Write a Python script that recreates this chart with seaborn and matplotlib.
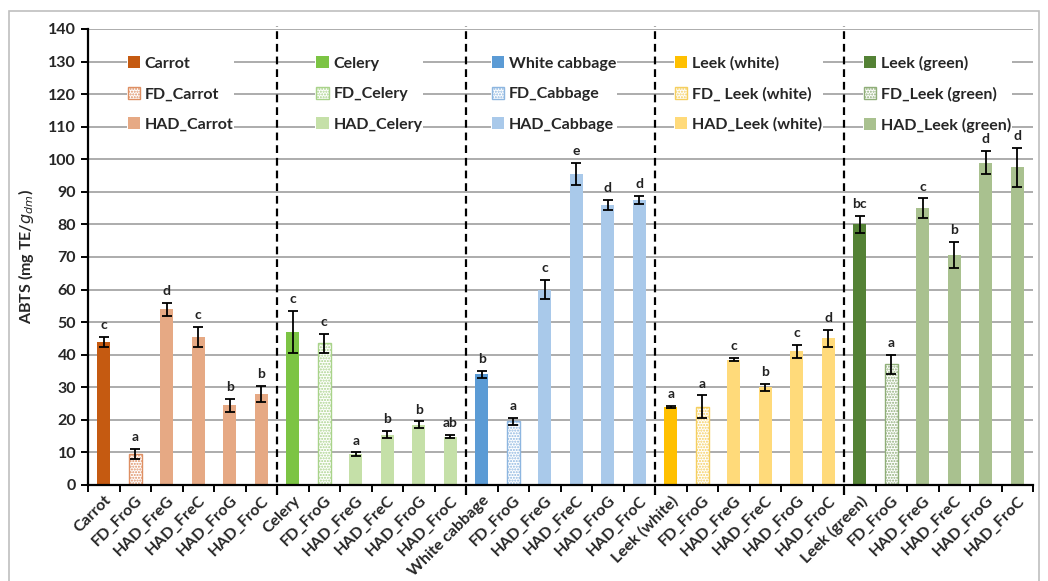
import numpy as np
import pandas as pd
import matplotlib
matplotlib.use("Agg")
import matplotlib.pyplot as plt
import seaborn as sns
from matplotlib.patches import Patch, Rectangle

# ---- data -------------------------------------------------------------
groups = ["Carrot", "Celery", "White cabbage", "Leek (white)", "Leek (green)"]
treatments = ["FD_FroG", "HAD_FreG", "HAD_FreC", "HAD_FroG", "HAD_FroC"]

carrot_vals = [44.0, 9.5, 54.0, 45.5, 24.5, 28.0]
carrot_errs = [1.5, 1.5, 2.0, 3.0, 2.0, 2.5]
carrot_letters = ["c", "a", "d", "c", "b", "b"]

celery_vals = [47.0, 43.5, 9.5, 15.5, 18.5, 14.8]
celery_errs = [6.5, 3.0, 0.5, 1.0, 1.0, 0.5]
celery_letters = ["c", "c", "a", "b", "b", "ab"]

cabbage_vals = [34.0, 19.5, 60.0, 95.5, 86.0, 87.5]
cabbage_errs = [1.0, 1.0, 3.0, 3.5, 1.5, 1.2]
cabbage_letters = ["b", "a", "c", "e", "d", "d"]

leek_white_vals = [24.0, 24.0, 38.5, 30.0, 41.0, 45.0]
leek_white_errs = [0.4, 3.5, 0.5, 1.0, 2.0, 2.5]
leek_white_letters = ["a", "a", "c", "b", "c", "d"]

leek_green_vals = [80.0, 37.0, 85.0, 70.5, 99.0, 97.5]
leek_green_errs = [2.5, 3.0, 3.0, 4.0, 3.5, 6.0]
leek_green_letters = ["bc", "a", "c", "b", "d", "d"]

legend_labels = [
    ["Carrot", "FD_Carrot", "HAD_Carrot"],
    ["Celery", "FD_Celery", "HAD_Celery"],
    ["White cabbage", "FD_Cabbage", "HAD_Cabbage"],
    ["Leek (white)", "FD_ Leek (white)", "HAD_Leek (white)"],
    ["Leek (green)", "FD_Leek (green)", "HAD_Leek (green)"],
]

all_vals = [carrot_vals, celery_vals, cabbage_vals, leek_white_vals, leek_green_vals]
all_errs = [carrot_errs, celery_errs, cabbage_errs, leek_white_errs, leek_green_errs]
all_letters = [carrot_letters, celery_letters, cabbage_letters,
               leek_white_letters, leek_green_letters]

# ---- colours ----------------------------------------------------------
fresh_colors = ["#C55A11", "#7CC444", "#5B9BD5", "#FFC000", "#548235"]
fd_colors = ["#DE8F63", "#A9D38A", "#8DB6E0", "#F5CF5F", "#8FAE78"]
had_colors = ["#E6A984", "#C5E0A8", "#A9C9EA", "#FFDA7A", "#A9C18F"]

# ---- long table -------------------------------------------------------
rows = []
for gi, g in enumerate(groups):
    names = [g] + treatments
    for j, name in enumerate(names):
        kind = "fresh" if j == 0 else ("fd" if j == 1 else "had")
        color = {"fresh": fresh_colors, "fd": fd_colors, "had": had_colors}[kind][gi]
        rows.append(dict(key=f"{g}|{name}", label=name, group=g, kind=kind,
                         value=all_vals[gi][j], err=all_errs[gi][j],
                         letter=all_letters[gi][j], color=color))
df = pd.DataFrame(rows)
keys = list(df["key"])

# ---- figure -----------------------------------------------------------
sns.set_style("white")
plt.rcParams["font.family"] = ["Lato", "DejaVu Sans"]

fig = plt.figure(figsize=(10.48, 5.81), dpi=100)
ax = fig.add_axes([88 / 1048, 96 / 581, (1033 - 88) / 1048, 456 / 581])

sns.barplot(data=df, x="key", y="value", hue="key", order=keys, hue_order=keys,
            palette=dict(zip(df["key"], df["color"])), saturation=1,
            width=0.4, legend=False, ax=ax, errorbar=None)

# fill pattern for the freeze-dried bars
for cont in ax.containers:
    for bar in cont:
        idx = int(round(bar.get_x() + bar.get_width() / 2))
        row = df.iloc[idx]
        bar.set_linewidth(0)
        if row["kind"] == "fd":
            bar.set_facecolor("white")
            bar.set_edgecolor(row["color"])
            bar.set_hatch("......")
            bar.set_linewidth(1.0)

x = np.arange(len(df))
ax.errorbar(x, df["value"], yerr=df["err"], fmt="none", ecolor="black",
            elinewidth=1.3, capsize=3.5, capthick=1.3, zorder=4)

for xi, (v, e, t) in enumerate(zip(df["value"], df["err"], df["letter"])):
    ax.text(xi, v + e + 1.8, t, ha="center", va="bottom", fontsize=10,
            fontweight="bold", color="#222222", zorder=7)

# axes styling
ax.set_xlim(-0.5, len(df) - 0.5)
ax.set_ylim(0, 140)
ax.set_yticks(np.arange(0, 141, 10))
ax.yaxis.grid(True, color="#a6a6a6", lw=1.3)
ax.set_axisbelow(True)
for s in ["top", "right"]:
    ax.spines[s].set_visible(False)
for s in ["left", "bottom"]:
    ax.spines[s].set_color("black")
    ax.spines[s].set_linewidth(1.6)

ax.set_xticks(x)
ax.set_xticklabels(df["label"], rotation=45, ha="right", rotation_mode="anchor",
                   fontsize=11.5, fontweight="bold")
ax.set_xticks(np.arange(-0.5, len(df), 1), minor=True)
ax.tick_params(axis="x", which="major", length=0, pad=6)
ax.tick_params(axis="x", which="minor", length=5, width=1.4, direction="out",
               color="black", bottom=True)
ax.tick_params(axis="y", length=5, width=1.4, direction="out", color="black",
               labelsize=11.5, left=True)
for lab in ax.get_yticklabels():
    lab.set_fontweight("bold")
ax.set_xlabel("")
ax.set_ylabel(r"ABTS (mg TE/$\mathit{g}_{\mathit{dm}}$)", fontsize=11.5,
              fontweight="bold", labelpad=9)

# dashed separators between vegetables
for b in np.arange(5.5, len(df) - 1, 6):
    ax.plot([b, b], [-3, 141], color="black", lw=1.6, ls=(0, (3.5, 2.2)),
            clip_on=False, zorder=3)

# one legend per vegetable
legend_x = [0.93, 6.92, 12.5, 18.3, 24.3]
for gi in range(len(groups)):
    handles = [
        Patch(facecolor=fresh_colors[gi], edgecolor="none"),
        Patch(facecolor="white", edgecolor=fd_colors[gi], hatch="......", lw=1),
        Patch(facecolor=had_colors[gi], edgecolor="none"),
    ]
    leg = ax.legend(handles, legend_labels[gi], loc="center left",
                    bbox_to_anchor=(legend_x[gi] - 0.2, 120),
                    bbox_transform=ax.transData, frameon=True, framealpha=1,
                    facecolor="white", edgecolor="none", fancybox=False,
                    prop=dict(size=11.5, weight="bold"), handlelength=0.78,
                    handleheight=0.78, handletextpad=0.3, labelspacing=1.0,
                    borderpad=0.05, borderaxespad=0)
    leg.set_zorder(5)
    ax.add_artist(leg)

# outer frame
fig.patches.append(Rectangle((9 / 1048, -0.01), (1039 - 9) / 1048, 1 - 11 / 581 + 0.01,
                             transform=fig.transFigure, fill=False,
                             edgecolor="#bfbfbf", lw=1.2))

fig.savefig("out.png", dpi=100)
